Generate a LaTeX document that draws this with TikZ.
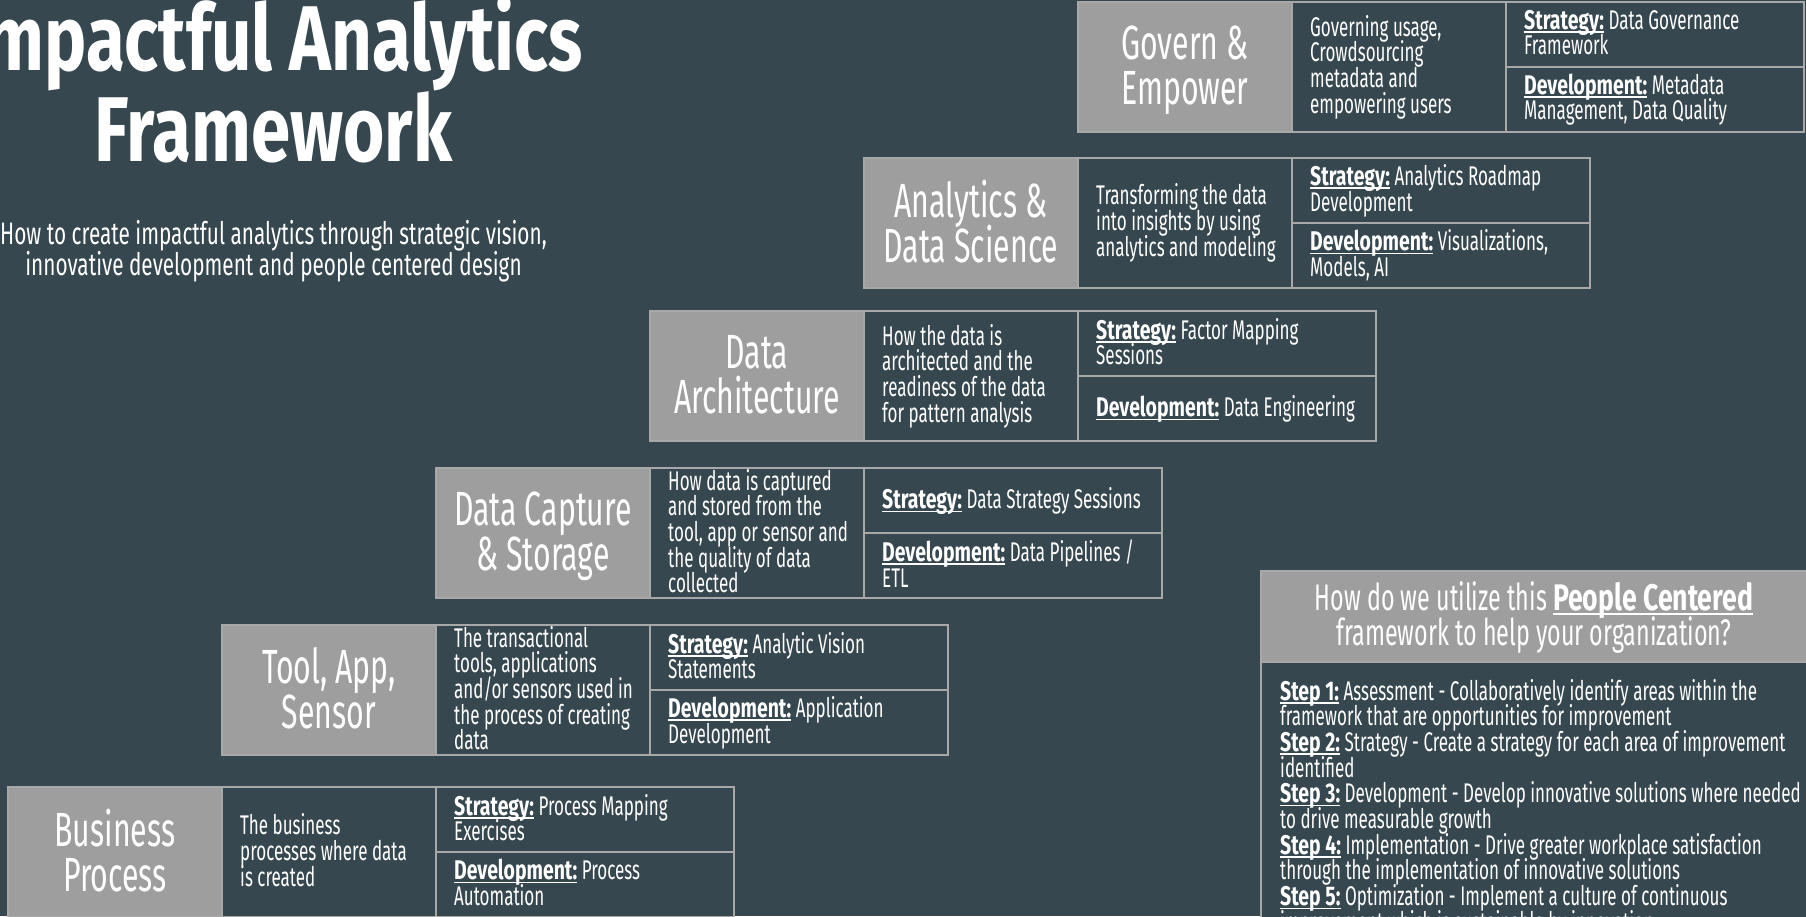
\documentclass[tikz,border=0pt]{standalone}
\usepackage{fontspec}
\setmainfont[FakeStretch=0.63,BoldFeatures={FakeStretch=0.72}]{Fira Sans}
\newfontfamily\titlefont[FakeStretch=0.77]{Fira Sans}
\newfontfamily\subfont[FakeStretch=0.67]{Fira Sans}
\definecolor{bg}{HTML}{36474F}
\definecolor{boxgray}{HTML}{9E9E9E}
\definecolor{edge}{HTML}{A8A8A8}
\newcommand\ulx[1]{\setbox0\hbox{#1}\rlap{\rule[-0.13em]{\wd0}{0.06em}}\box0}
\newcommand\lab[1]{\textbf{\ulx{#1}}}
\newcommand\bigstrut{\rule[-9.4pt]{0pt}{49.4pt}}
\newcommand\smstrut{\rule[-4pt]{0pt}{26.6pt}}
\newcommand\noskip{\lineskiplimit=-100pt\relax}
\newcommand\mkrow[7]{%
  \pgfmathsetmacro\rL{8+214*#1}%
  \node[graybox] (#3g) at (\rL,#2) {};
  \node[darkbox] (#3d) at (#3g.north east) {};
  \node[halfbox] (#3s) at (#3d.north east) {};
  \node[halfbox] (#3v) at (#3s.south west) {};
  \node[bigtxt] (#3gt) at ([yshift=-3pt]#3g.center) {#4};
  \node[smalltxt] (#3dt) at ([xshift=18pt]#3d.west) {#5};
  \node[smalltxt] (#3st) at ([xshift=18pt]#3s.west) {\lab{Strategy:} #6};
  \node[smalltxt] (#3vt) at ([xshift=18pt]#3v.west) {\lab{Development:} #7};
}
\begin{document}
\begin{tikzpicture}[x=1pt,y=-1pt,
  box/.style={draw=edge, line width=2.5pt, inner sep=0pt, outer sep=0pt, anchor=north west},
  graybox/.style={box, fill=boxgray, minimum width=214pt, minimum height=130pt},
  darkbox/.style={box, fill=bg, minimum width=214pt, minimum height=130pt},
  halfbox/.style={box, fill=bg, minimum width=298pt, minimum height=65pt},
  bigtxt/.style={text=white, align=center, font=\fontsize{48}{45}\selectfont, inner sep=0pt,
    execute at begin node={\noskip\bigstrut}, execute at end node=\bigstrut},
  smalltxt/.style={text=white, align=left, font=\fontsize{27}{25.7}\selectfont, inner sep=0pt, anchor=west,
    execute at begin node={\noskip\smstrut}, execute at end node=\smstrut},
  steptxt/.style={text=white, font=\fontsize{27}{25.7}\selectfont, inner sep=0pt, anchor=base west},
  titletxt/.style={text=white, font=\titlefont\bfseries\fontsize{92}{92}\selectfont, inner sep=0pt, anchor=base},
  subtxt/.style={text=white, font=\subfont\fontsize{31}{31}\selectfont, inner sep=0pt, anchor=base},
  headtxt/.style={text=white, font=\fontsize{37}{35}\selectfont, inner sep=0pt, anchor=base}
]
\fill[bg] (0,0) rectangle (1806,916);
\useasboundingbox (0,0) rectangle (1806,916);

\node[titletxt] (t1) at (273.5,70) {Impactful Analytics};
\node[titletxt] (t2) at (273.5,161) {Framework};
\node[subtxt] (s1) at (273.5,244) {How to create impactful analytics through strategic vision,};
\node[subtxt] (s2) at (273.5,275) {innovative development and people centered design};

\mkrow{0}{787}{bp}{Business\\Process}{The business\\processes where data\\is created}{Process Mapping\\Exercises}{Process\\Automation}
\mkrow{1}{625}{ta}{Tool, App,\\Sensor}{The transactional\\tools, applications\\and/or sensors used in\\the process of creating\\data}{Analytic Vision\\Statements}{Application\\Development}
\mkrow{2}{468}{dc}{Data Capture\\\& Storage}{How data is captured\\and stored from the\\tool, app or sensor and\\the quality of data\\collected}{Data Strategy Sessions}{Data Pipelines /\\ETL}
\mkrow{3}{311}{da}{Data\\Architecture}{How the data is\\architected and the\\readiness of the data\\for pattern analysis}{Factor Mapping\\Sessions}{Data Engineering}
\mkrow{4}{158}{an}{Analytics \&\\Data Science}{Transforming the data\\into insights by using\\analytics and modeling}{Analytics Roadmap\\Development}{Visualizations,\\Models, AI}
\mkrow{5}{2}{ge}{Govern \&\\Empower}{Governing usage,\\Crowdsourcing\\metadata and\\empowering users}{Data Governance\\Framework}{Metadata\\Management, Data Quality}

\node[box, fill=boxgray, minimum width=560pt, minimum height=91pt] (hd) at (1261,571) {};
\node[box, fill=bg, minimum width=560pt, minimum height=280pt] (bd) at (hd.south west) {};
\node[headtxt] (h1) at (1534,610) {How do we utilize this \textbf{\ulx{People Centered}}};
\node[headtxt] (h2) at (1534,645) {framework to help your organization?};

\node[steptxt] (l1) at (1280,700) {\lab{Step 1:} Assessment - Collaboratively identify areas within the};
\node[steptxt] (l2) at (1280,725.7) {framework that are opportunities for improvement};
\node[steptxt] (l3) at (1280,751.4) {\lab{Step 2:} Strategy - Create a strategy for each area of improvement};
\node[steptxt] (l4) at (1280,777.1) {identified};
\node[steptxt] (l5) at (1280,802.8) {\lab{Step 3:} Development - Develop innovative solutions where needed};
\node[steptxt] (l6) at (1280,828.5) {to drive measurable growth};
\node[steptxt] (l7) at (1280,854.2) {\lab{Step 4:} Implementation - Drive greater workplace satisfaction};
\node[steptxt] (l8) at (1280,879.9) {through the implementation of innovative solutions};
\node[steptxt] (l9) at (1280,905.6) {\lab{Step 5:} Optimization - Implement a culture of continuous};
\node[steptxt] (l10) at (1280,931.3) {improvement which is sustainable by innovation};
\end{tikzpicture}
\end{document}
